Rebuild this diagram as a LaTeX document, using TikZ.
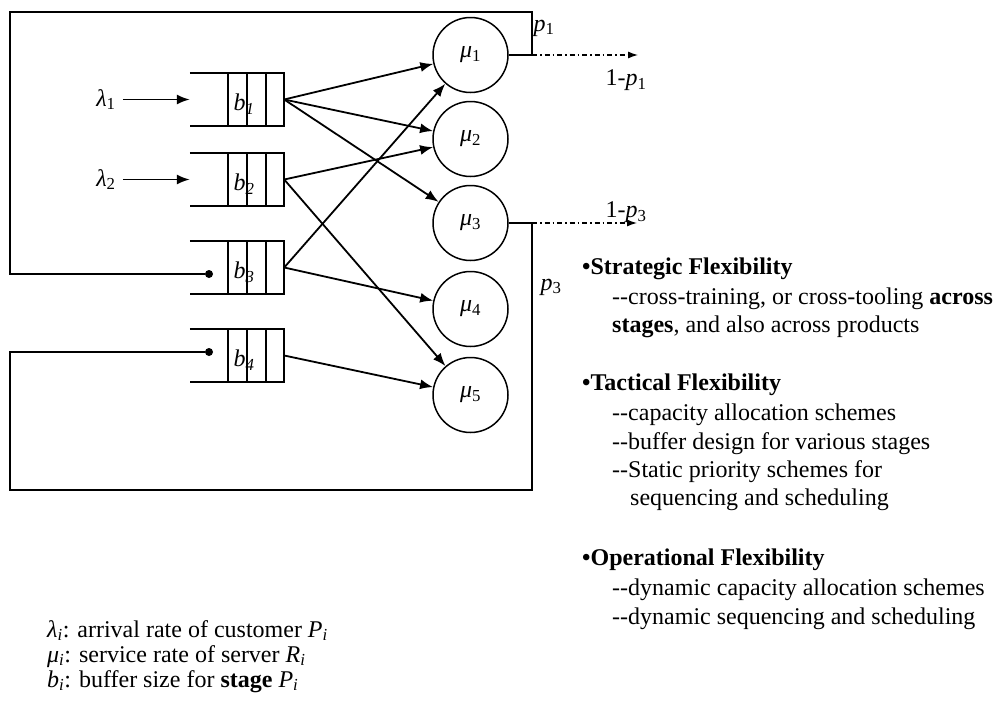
\documentclass[tikz,border=0pt]{standalone}
\usepackage{fontspec}
\setmainfont{Liberation Serif}
\usetikzlibrary{arrows.meta}
\begin{document}
\begin{tikzpicture}[x=1pt,y=-1pt,
  every node/.style={inner sep=0pt},
  txt/.style={anchor=base west, font=\fontsize{24}{28}\selectfont},
  lbl/.style={font=\fontsize{24}{28}\selectfont},
  sym/.style={font=\fontsize{24}{26}\selectfont},
  srv/.style={circle, draw, line width=1.5pt, minimum size=75pt, font=\fontsize{24}{26}\selectfont},
  buf/.style={minimum width=56pt, minimum height=53pt},
  bufline/.style={line width=1.5pt},
  flow/.style={line width=1.8pt, -{Latex[length=13pt,width=10pt]}},
  fb/.style={line width=1.3pt},
  exit/.style={line width=1.2pt, dash pattern=on 5pt off 3pt on 1.5pt off 3pt, -{Latex[length=10pt,width=7pt]}},
  dot/.style={circle, fill, minimum size=8pt},
]
\useasboundingbox (0,0) rectangle (1001,707);

% servers
\node[srv] (mu1) at (470.5,55)  {\textit{μ}\textsubscript{1}};
\node[srv] (mu2) at (470.5,139) {\textit{μ}\textsubscript{2}};
\node[srv] (mu3) at (470.5,223) {\textit{μ}\textsubscript{3}};
\node[srv] (mu4) at (470.5,309) {\textit{μ}\textsubscript{4}};
\node[srv] (mu5) at (470.5,395) {\textit{μ}\textsubscript{5}};

% buffers
\foreach \k/\yy in {1/99.5,2/179.5,3/267.5,4/355.5}{
  \node[buf] (b\k) at (256,\yy) {};
  \draw[bufline] ([xshift=-38pt]b\k.north west) -- (b\k.north east) -- (b\k.south east) -- ([xshift=-38pt]b\k.south west);
  \draw[bufline] (b\k.north west) -- (b\k.south west)
     ([xshift=19pt]b\k.north west) -- ([xshift=19pt]b\k.south west)
     ([xshift=38pt]b\k.north west) -- ([xshift=38pt]b\k.south west);
  \node[sym] (lb\k) at ([xshift=-12pt,yshift=-5pt]b\k.center) {\textit{b}\textsubscript{\textit{\k}}};
}

% arrivals
\node[sym] (l1) at (106,99.5) {\textit{λ}\textsubscript{1}};
\node[sym] (l2) at (106,179.5) {\textit{λ}\textsubscript{2}};
\coordinate (in1) at ([xshift=-38pt]b1.west);
\coordinate (in2) at ([xshift=-38pt]b2.west);
\draw[flow] ([xshift=7pt]l1.east) -- (in1);
\draw[flow] ([xshift=7pt]l2.east) -- (in2);

% routing
\draw[flow] (b1.east) -- (mu1);
\draw[flow] (b1.east) -- (mu2);
\draw[flow] (b1.east) -- (mu3);
\draw[flow] (b2.east) -- (mu2);
\draw[flow] (b2.east) -- (mu5);
\draw[flow] (b3.east) -- (mu1);
\draw[flow] (b3.east) -- (mu4);
\draw[flow] (b4.east) -- (mu5);

% feedback loops
\coordinate (j1) at (532,55);
\coordinate (j3) at (532,223);
\coordinate (tr) at (532,12);
\coordinate (tl) at (10,12);
\coordinate (br) at (532,490);
\coordinate (bl) at (10,490);
\node[dot] (d3) at (209,274) {};
\node[dot] (d4) at (209,352) {};
\draw[fb] (mu1.east) -- (j1) -- (tr) -- (tl) -- (tl |- d3) -- (d3);
\draw[fb] (mu3.east) -- (j3) -- (br) -- (bl) -- (bl |- d4) -- (d4);

% exits
\coordinate (o1) at (638,55);
\coordinate (o3) at (637,223);
\draw[exit] (j1) -- (o1);
\draw[exit] (j3) -- (o3);

\node[lbl] (p1) at (544,28) {\textit{p}\textsubscript{1}};
\node[lbl] (q1) at (626,80) {1-\textit{p}\textsubscript{1}};
\node[lbl] (q3) at (626,212) {1-\textit{p}\textsubscript{3}};
\node[lbl] (p3) at (551,287) {\textit{p}\textsubscript{3}};

% right text
\node[txt] (s1) at (582,274) {\textbf{•Strategic Flexibility}};
\node[txt] (s2) at (612,304) {-{}-cross-training, or cross-tooling \textbf{across}};
\node[txt] (s3) at (612,332) {\textbf{stages}, and also across products};
\node[txt] (t1) at (582,390) {\textbf{•Tactical Flexibility}};
\node[txt] (t2) at (612,420) {-{}-capacity allocation schemes};
\node[txt] (t3) at (612,449) {-{}-buffer design for various stages};
\node[txt] (t4) at (612,477) {-{}-Static priority schemes for};
\node[txt] (t5) at (630,505) {sequencing and scheduling};
\node[txt] (r1) at (582,565) {\textbf{•Operational Flexibility}};
\node[txt] (r2) at (612,595) {-{}-dynamic capacity allocation schemes};
\node[txt] (r3) at (612,624) {-{}-dynamic sequencing and scheduling};

% legend
\node[txt] (g1) at (47,637) {\textit{λ}\textsubscript{\textit{i}}: arrival rate of customer \textit{P}\textsubscript{\textit{i}}};
\node[txt] (g2) at (47,662) {\textit{μ}\textsubscript{\textit{i}}: service rate of server \textit{R}\textsubscript{\textit{i}}};
\node[txt] (g3) at (47,687) {\textit{b}\textsubscript{\textit{i}}: buffer size for \textbf{stage} \textit{P}\textsubscript{\textit{i}}};
\end{tikzpicture}
\end{document}
